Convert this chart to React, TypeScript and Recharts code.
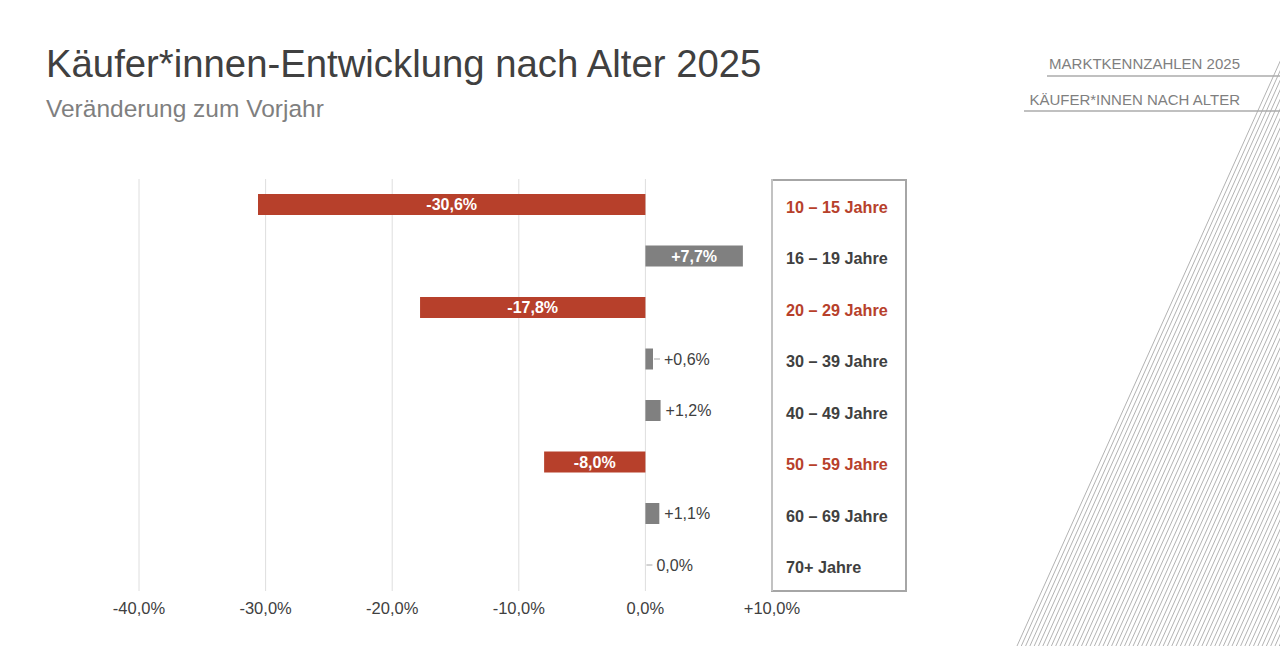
import React from "react";
import { BarChart, Bar, XAxis, YAxis, CartesianGrid, Cell, LabelList } from "recharts";

const ageGroups = [
  "10 – 15 Jahre",
  "16 – 19 Jahre",
  "20 – 29 Jahre",
  "30 – 39 Jahre",
  "40 – 49 Jahre",
  "50 – 59 Jahre",
  "60 – 69 Jahre",
  "70+ Jahre",
];
const changes = [-30.6, 7.7, -17.8, 0.6, 1.2, -8.0, 1.1, 0.0];
const xTicks = [-40, -30, -20, -10, 0, 10];

const RED = "#b7402b";
const GREY_BAR = "#808080";
const TEXT = "#404040";
const FONT = '"Liberation Sans", Arial, Helvetica, sans-serif';

const rows = ageGroups.map((group, i) => ({ group, change: changes[i] }));

const fmtPct = (v: number) => {
  const s = Math.abs(v).toFixed(1).replace(".", ",") + "%";
  if (v > 0) return "+" + s;
  if (v < 0) return "-" + s;
  return s;
};

// value labels: inside the long bars, to the right (with a small leader) for the short ones
const BarValueLabel = (props: any) => {
  const { x, y, width, height, value } = props;
  const cy = y + height / 2;
  if (Math.abs(value) >= 5) {
    return (
      <text x={x + width / 2} y={cy} dy="0.36em" textAnchor="middle" fill="#fff" fontSize={16} fontWeight="bold" fontFamily={FONT}>
        {fmtPct(value)}
      </text>
    );
  }
  const end = x + Math.max(width, 0);
  const leader = value < 1;
  return (
    <g>
      {leader && <line x1={end + 1} y1={cy} x2={end + 7} y2={cy} stroke="#a6a6a6" strokeWidth={1} />}
      <text x={end + (leader ? 11 : 5)} y={cy} dy="0.36em" textAnchor="start" fill={TEXT} fontSize={16} fontFamily={FONT}>
        {fmtPct(value)}
      </text>
    </g>
  );
};

const GroupTick = (props: any) => {
  const { x, y, payload } = props;
  const row = rows.find((r) => r.group === payload.value);
  const color = row && row.change < 0 ? RED : TEXT;
  return (
    <text x={x} y={y + 2} dy="0.36em" textAnchor="start" fill={color} fontSize={16.2} fontWeight="bold" fontFamily={FONT}>
      {payload.value}
    </text>
  );
};

const Decoration = () => {
  const lines = [];
  for (let k = 0; k < 64; k++) {
    const xb = 1017 + k * 4.3;
    lines.push(<line key={k} x1={xb} y1={646} x2={xb + 0.45 * 646} y2={0} stroke="#b3b3b3" strokeWidth={1} />);
  }
  return (
    <svg width={1280} height={646} style={{ position: "absolute", left: 0, top: 0 }}>
      {lines}
      <line x1={1047} y1={76} x2={1280} y2={76} stroke="#ababab" strokeWidth={1.5} />
      <line x1={1024} y1={111} x2={1280} y2={111} stroke="#ababab" strokeWidth={1.5} />
      <text x={1240} y={69} textAnchor="end" fill="#7f7f7f" fontSize={15} fontFamily={FONT}>
        MARKTKENNZAHLEN 2025
      </text>
      <text x={1240} y={105} textAnchor="end" fill="#7f7f7f" fontSize={15} fontFamily={FONT}>
        KÄUFER*INNEN NACH ALTER
      </text>
      <text x={46} y={77} fill={TEXT} fontSize={38.3} fontFamily={FONT}>
        Käufer*innen-Entwicklung nach Alter 2025
      </text>
      <text x={46} y={117} fill="#7f7f7f" fontSize={24.5} fontFamily={FONT}>
        Veränderung zum Vorjahr
      </text>
    </svg>
  );
};

export default function App() {
  return (
    <div style={{ position: "absolute", left: 0, top: 0, width: 1280, height: 646, background: "#fff", fontFamily: FONT }}>
      <Decoration />
      <div
        style={{
          position: "absolute",
          left: 771,
          top: 179,
          width: 136,
          height: 413,
          border: "2px solid #a6a6a6",
          boxSizing: "border-box",
        }}
      />
      <div style={{ position: "absolute", left: 0, top: 0 }}>
        <BarChart width={1280} height={646} layout="vertical" data={rows} margin={{ top: 179, right: 372, bottom: 25, left: 139 }}>
          <CartesianGrid horizontal={false} stroke="#dedede" />
          <XAxis
            type="number"
            domain={[-40, 10]}
            ticks={xTicks}
            tickFormatter={fmtPct}
            axisLine={false}
            tickLine={false}
            tickMargin={5}
            height={30}
            tick={{ fill: TEXT, fontSize: 16.5, fontFamily: FONT }}
          />
          <YAxis
            type="category"
            dataKey="group"
            orientation="right"
            width={136}
            axisLine={false}
            tickLine={false}
            tickSize={0}
            tickMargin={14}
            tick={<GroupTick />}
          />
          <Bar dataKey="change" barSize={21} minPointSize={0.01} isAnimationActive={false}>
            {rows.map((r, i) => (
              <Cell key={i} fill={r.change < 0 ? RED : GREY_BAR} />
            ))}
            <LabelList dataKey="change" content={<BarValueLabel />} />
          </Bar>
        </BarChart>
      </div>
    </div>
  );
}
